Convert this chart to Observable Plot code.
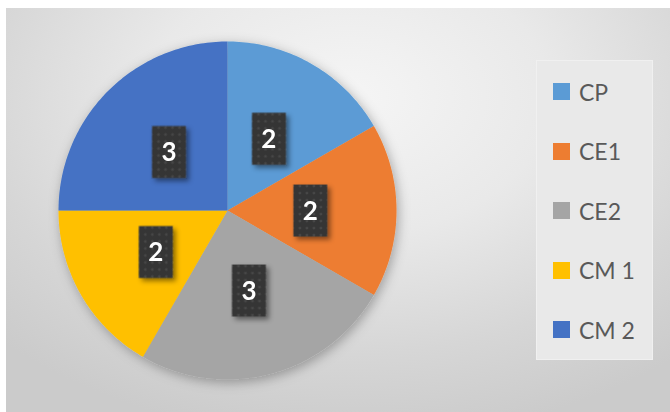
<!DOCTYPE html>
<html>
<head>
<meta charset="utf-8">
<script src="https://cdn.jsdelivr.net/npm/d3@7"></script>
<script src="https://cdn.jsdelivr.net/npm/@observablehq/plot@0.6"></script>
<style>
  html, body { margin: 0; padding: 0; background: #ffffff; }
  #wrap { position: relative; width: 670px; height: 412px; overflow: hidden; background: #ffffff; }
  #panel { position: absolute; left: 6px; top: 8px; width: 664px; height: 404px;
    background: radial-gradient(ellipse 75% 85% at 52% 22%, #f5f5f5 0%, #e9e9e9 40%, #d6d6d6 75%, #cbcbcb 100%); }
  #chart { position: absolute; left: 0; top: 0; }
  #legend { position: absolute; left: 536px; top: 60px; width: 117px; height: 300px;
    background: #e9e9e9; box-sizing: border-box; border: 1px solid #f0f0f0; padding-top: 1px; padding-left: 16px; }
  .lg-swatches { margin: 0 !important; font-family: Lato, "Liberation Sans", sans-serif; font-size: 23px; color: #595959; }
  .lg-swatch { height: 59.5px; padding: 0 !important; }
  .lg-swatch > svg { margin-right: 9px !important; }
</style>
</head>
<body>
<div id="wrap">
  <div id="panel"></div>
  <div id="chart"></div>
  <div id="legend"></div>
</div>
<script>
const categories = ["CP", "CE1", "CE2", "CM 1", "CM 2"];
const values = [2, 2, 3, 2, 3];
const colors = ["#5B9BD5", "#ED7D31", "#A5A5A5", "#FFC000", "#4472C4"];

const rows = categories.map((c, i) => ({name: c, value: values[i]}));
const arcs = d3.pie().sort(null).value(d => d.value).startAngle(0).endAngle(2 * Math.PI)(rows);

// slice outlines in unit-circle data space (y up)
const slicePts = [];
for (const a of arcs) {
  const n = Math.max(2, Math.ceil((a.endAngle - a.startAngle) / (Math.PI / 180)));
  slicePts.push({name: a.data.name, x: 0, y: 0});
  for (let k = 0; k <= n; k++) {
    const t = a.startAngle + (a.endAngle - a.startAngle) * k / n;
    slicePts.push({name: a.data.name, x: Math.sin(t), y: Math.cos(t)});
  }
  slicePts.push({name: a.data.name, x: 0, y: 0});
}
const labelR = 0.49;
const labels = arcs.map(a => {
  const m = (a.startAngle + a.endAngle) / 2;
  return {name: a.data.name, value: a.data.value, x: labelR * Math.sin(m), y: labelR * Math.cos(m)};
});

const boxSymbol = {draw(ctx) { ctx.rect(-17, -26, 34, 52); }};

const plot = Plot.plot({
  width: 670, height: 412,
  marginTop: 0, marginRight: 0, marginBottom: 0, marginLeft: 0,
  style: {background: "transparent", overflow: "visible"},
  x: {domain: [-1, 1], range: [58, 396], axis: null},
  y: {domain: [-1, 1], range: [379, 41], axis: null},
  color: {domain: categories, range: colors},
  marks: [
    Plot.line(slicePts, {x: "x", y: "y", z: "name", fill: "name", stroke: "none", curve: "linear"}),
    Plot.dot(labels, {x: "x", y: "y", symbol: boxSymbol, r: 10, fill: "url(#dots)", stroke: "none"}),
    Plot.text(labels, {x: "x", y: "y", dy: 1, text: d => String(d.value), fill: "white", fontSize: 26, fontWeight: "bold", fontFamily: "Lato, 'Liberation Sans', sans-serif"})
  ]
});

const svg = d3.select(plot);
const defs = svg.insert("defs", ":first-child");
const pat = defs.append("pattern").attr("id", "dots").attr("patternUnits", "userSpaceOnUse")
  .attr("width", 7).attr("height", 7);
pat.append("rect").attr("width", 7).attr("height", 7).attr("fill", "#353535");
pat.append("circle").attr("cx", 3.5).attr("cy", 3.5).attr("r", 1).attr("fill", "#5a5a5a");
const f1 = defs.append("filter").attr("id", "pieShadow").attr("x", "-20%").attr("y", "-20%").attr("width", "140%").attr("height", "140%");
f1.append("feDropShadow").attr("dx", 2).attr("dy", 3).attr("stdDeviation", 6).attr("flood-color", "#000").attr("flood-opacity", 0.3);
const f2 = defs.append("filter").attr("id", "boxShadow").attr("x", "-50%").attr("y", "-50%").attr("width", "200%").attr("height", "200%");
f2.append("feDropShadow").attr("dx", 3).attr("dy", 3).attr("stdDeviation", 2.5).attr("flood-color", "#000").attr("flood-opacity", 0.45);
svg.selectAll('g[aria-label="line"]').attr("filter", "url(#pieShadow)");
svg.selectAll('g[aria-label="dot"]').attr("filter", "url(#boxShadow)");

document.getElementById("chart").appendChild(plot);
const legend = plot.legend("color", {legend: "swatches", columns: 1, swatchSize: 17, className: "lg"});
document.getElementById("legend").appendChild(legend);
</script>
</body>
</html>
